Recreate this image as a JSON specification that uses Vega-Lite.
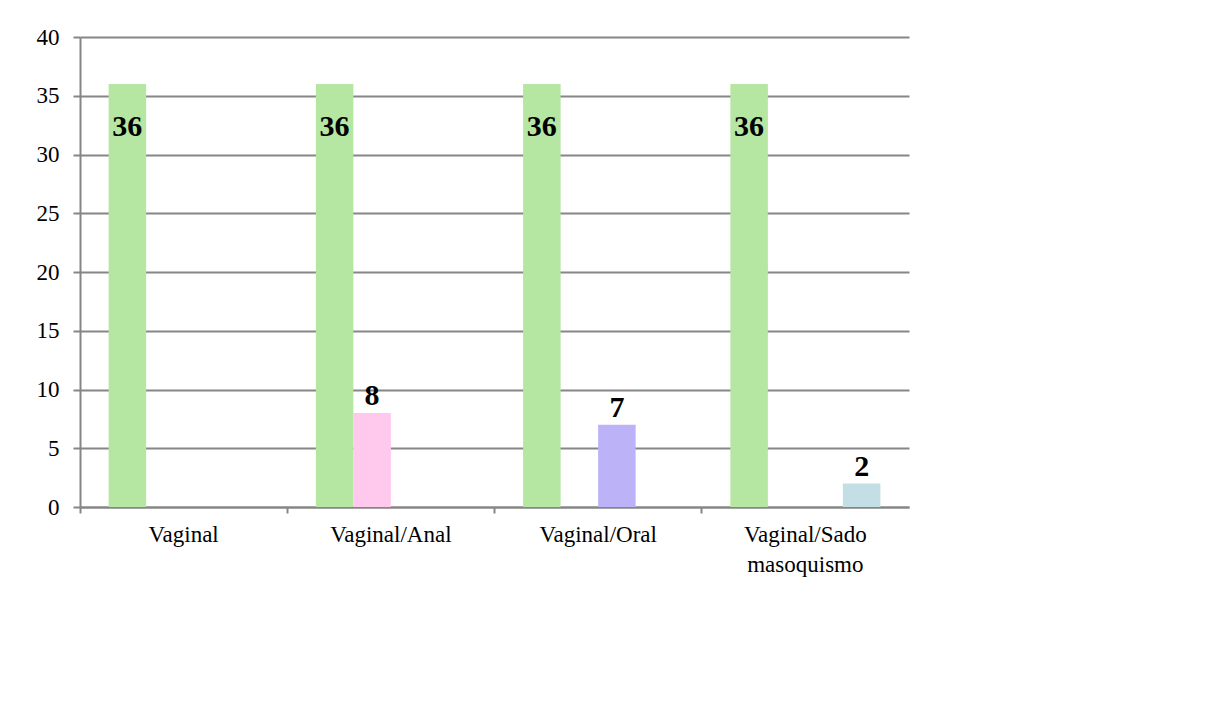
{
  "$schema": "https://vega.github.io/schema/vega-lite/v6.json",
  "autosize": "none",
  "width": 829,
  "height": 470,
  "padding": {"left": 80, "top": 37, "right": 310, "bottom": 208},
  "background": "white",
  "config": {
    "view": {"stroke": null},
    "font": "Liberation Serif"
  },
  "data": {
    "values": [
      {"categoria": "Vaginal", "serie": "Vaginal", "valor": 36},
      {"categoria": "Vaginal/Anal", "serie": "Vaginal", "valor": 36},
      {"categoria": "Vaginal/Anal", "serie": "Anal", "valor": 8},
      {"categoria": "Vaginal/Oral", "serie": "Vaginal", "valor": 36},
      {"categoria": "Vaginal/Oral", "serie": "Oral", "valor": 7},
      {"categoria": "Vaginal/Sado masoquismo", "serie": "Vaginal", "valor": 36},
      {"categoria": "Vaginal/Sado masoquismo", "serie": "Sado masoquismo", "valor": 2}
    ]
  },
  "encoding": {
    "x": {
      "field": "categoria",
      "type": "nominal",
      "sort": null,
      "scale": {"paddingInner": 0, "paddingOuter": 0},
      "axis": {
        "title": null,
        "labelAngle": 0,
        "bandPosition": 0,
        "labelFont": "Liberation Serif",
        "labelFontSize": 23,
        "labelColor": "#000000",
        "labelPadding": 10,
        "labelBaseline": "top",
        "labelLineHeight": 30,
        "labelExpr": "split(datum.label, ' ')",
        "domainColor": "#868686",
        "domainWidth": 2,
        "tickColor": "#868686",
        "tickWidth": 2,
        "tickSize": 6,
        "grid": false
      }
    },
    "xOffset": {
      "field": "serie",
      "type": "nominal",
      "scale": {"domain": ["Vaginal", "Anal", "Oral", "Sado masoquismo"], "paddingInner": 0, "paddingOuter": 0.763}
    },
    "y": {
      "field": "valor",
      "type": "quantitative",
      "scale": {"domain": [0, 40], "nice": false},
      "axis": {
        "title": null,
        "values": [0, 5, 10, 15, 20, 25, 30, 35, 40],
        "labelFont": "Liberation Serif",
        "labelFontSize": 23,
        "labelColor": "#000000",
        "labelPadding": 14,
        "domainColor": "#868686",
        "domainWidth": 2,
        "tickColor": "#868686",
        "tickWidth": 2,
        "tickSize": 7,
        "gridColor": "#868686",
        "gridWidth": 2
      }
    }
  },
  "layer": [
    {
      "mark": {"type": "bar"},
      "encoding": {
        "color": {
          "field": "serie",
          "type": "nominal",
          "scale": {"domain": ["Vaginal", "Anal", "Oral", "Sado masoquismo"], "range": ["#b5e6a2", "#fec9ed", "#bbb2f7", "#c4dee5"]},
          "legend": null
        }
      }
    },
    {
      "transform": [{"filter": "datum.valor >= 20"}],
      "mark": {"type": "text", "font": "Liberation Serif", "fontWeight": "bold", "fontSize": 30, "baseline": "middle", "dy": 43, "color": "#000000"},
      "encoding": {"text": {"field": "valor", "type": "quantitative"}}
    },
    {
      "transform": [{"filter": "datum.valor < 20"}],
      "mark": {"type": "text", "font": "Liberation Serif", "fontWeight": "bold", "fontSize": 30, "baseline": "middle", "dy": -17, "color": "#000000"},
      "encoding": {"text": {"field": "valor", "type": "quantitative"}}
    }
  ]
}
